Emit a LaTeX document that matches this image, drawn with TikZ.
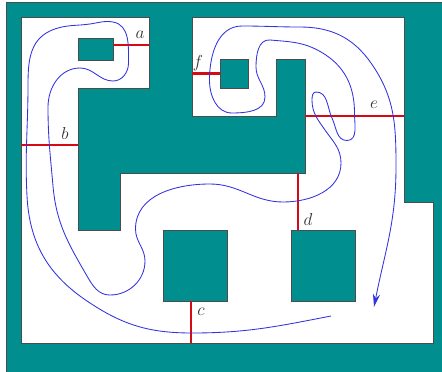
\documentclass[tikz,border=0pt]{standalone}
\usetikzlibrary{arrows.meta}
\definecolor{tealbg}{RGB}{0,142,142}
\definecolor{cutred}{RGB}{214,10,20}
\definecolor{curveblue}{RGB}{50,50,225}
\tikzset{
  px/.style={x=1pt,y=-1pt},
  solid region/.style={fill=tealbg,draw=black!70,line width=0.9pt},
  free region/.style={fill=white,draw=black!70,line width=0.9pt},
  cut/.style={draw=cutred,line width=2.6pt},
  path curve/.style={draw=curveblue,line width=0.85pt},
  cutlabel/.style={font=\LARGE,inner sep=0pt,text=black!80}
}
\begin{document}
\begin{tikzpicture}[px]
\useasboundingbox (0,0) rectangle (442,372);
\draw[solid region] (6.5,2.5) rectangle (442,372);
\draw[free region] (21,17) -- (149,17) -- (149,88) -- (78,88) -- (78,230) -- (120,230) -- (120,173) -- (305,173) -- (305,59) -- (276,59) -- (276,116) -- (192,116) -- (192,17) -- (404,17) -- (404,202) -- (433,202) -- (433,343) -- (21,343) -- cycle;
\draw[solid region] (78,38) rectangle (113.5,60);
\draw[solid region] (220,59) rectangle (248,88);
\draw[solid region] (163,230) rectangle (227,301);
\draw[solid region] (291,230) rectangle (355,301);
\coordinate (a1) at (113.5,45); \coordinate (a2) at (149,45);
\coordinate (b1) at (21,145); \coordinate (b2) at (78,145);
\coordinate (c1) at (191,301); \coordinate (c2) at (191,343);
\coordinate (d1) at (298,173); \coordinate (d2) at (298,230);
\coordinate (e1) at (305,116); \coordinate (e2) at (404,116);
\coordinate (f1) at (192,73.5); \coordinate (f2) at (220,73.5);
\draw[cut] (a1) -- (a2);
\draw[cut] (b1) -- (b2);
\draw[cut] (c1) -- (c2);
\draw[cut] (d1) -- (d2);
\draw[cut] (e1) -- (e2);
\draw[cut] (f1) -- (f2);
\node[cutlabel] (la) at (140,34.5) {$a$};
\node[cutlabel] (lb) at (65,133) {$b$};
\node[cutlabel] (lc) at (201,312) {$c$};
\node[cutlabel] (ld) at (308,219) {$d$};
\node[cutlabel] (le) at (374,105) {$e$};
\node[cutlabel] (lf) at (198,63) {$f$};
\draw[path curve,-{Stealth[length=13pt,width=7pt]}]
 (331,316) to[out=191,in=0] (192,333)
 to[out=180,in=-34] (87,301)
 to[out=146,in=-87] (27,196)
 to[out=93,in=-90] (28,85)
 to[out=90,in=205] (50,31)
 to[out=25,in=190] (93,23.5)
 to[out=10,in=170] (113,22)
 to[out=-10,in=90] (128.5,63)
 to[out=-90,in=0] (113,81)
 to[out=180,in=0] (80,68)
 to[out=180,in=90] (48,107)
 to[out=-90,in=95] (53,186)
 to[out=-85,in=120] (87,276)
 to[out=-60,in=180] (110,295)
 to[out=0,in=-90] (145,261)
 to[out=90,in=-90] (135.5,229)
 to[out=90,in=180] (210,184)
 to[out=0,in=180] (283,202)
 to[out=0,in=-90] (341,163)
 to[out=90,in=-55] (325,130)
 to[out=125,in=-90] (312,100)
 to[out=90,in=180] (316,92)
 to[out=0,in=115] (332,118)
 to[out=-65,in=180] (347,140.5)
 to[out=0,in=-90] (354.5,113)
 to[out=90,in=-30] (321,52)
 to[out=150,in=-5] (270,40)
 to[out=175,in=90] (256,67)
 to[out=-90,in=90] (265,97)
 to[out=-90,in=0] (232,113)
 to[out=180,in=-90] (209.5,80)
 to[out=90,in=180] (242,26)
 to[out=0,in=180] (300,27)
 to[out=0,in=125] (371,63)
 to[out=-55,in=90] (396,167)
 to[out=-90,in=79] (374,307);
\end{tikzpicture}
\end{document}
